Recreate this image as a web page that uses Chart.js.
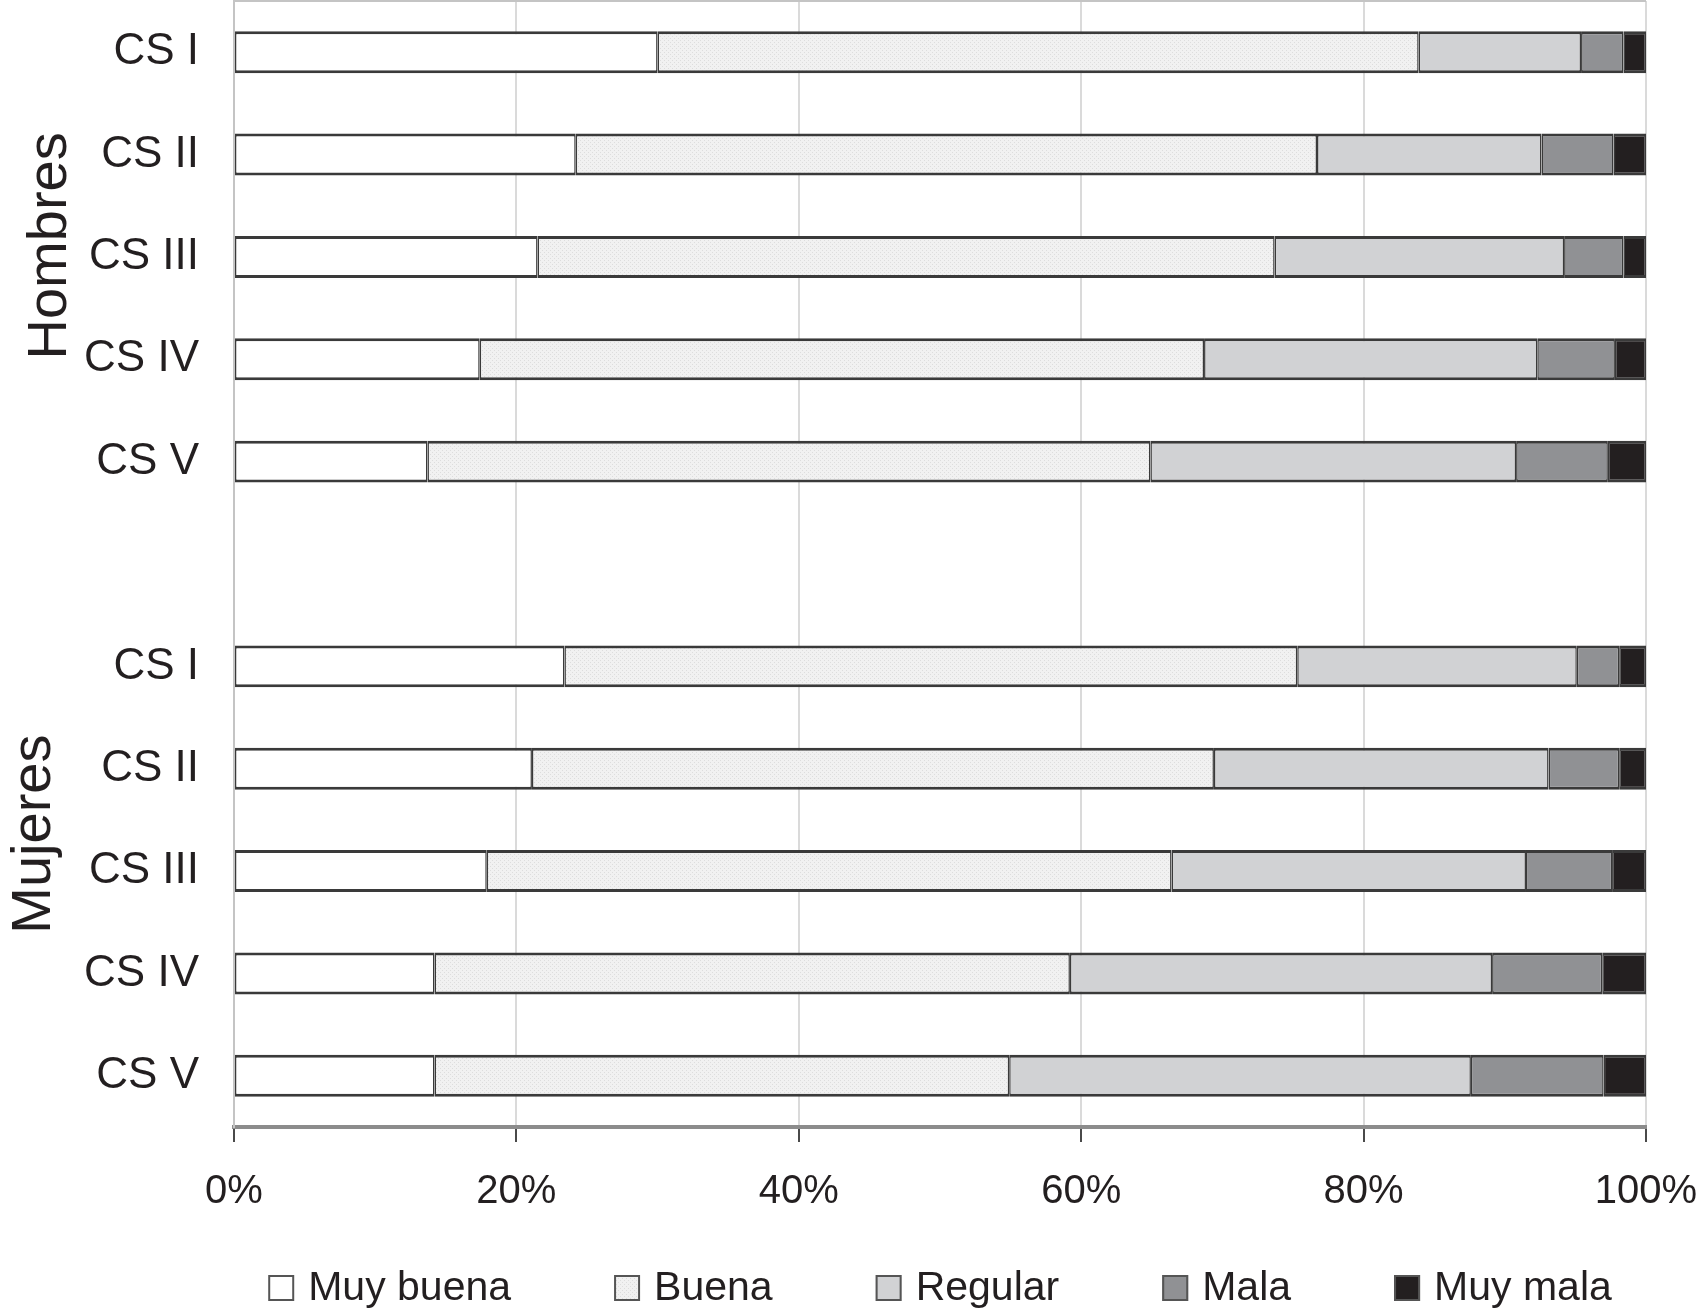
<!DOCTYPE html>
<html lang="es">
<head>
<meta charset="utf-8">
<title>Salud percibida por clase social</title>
<script src="https://cdn.jsdelivr.net/npm/chart.js@4.4.1/dist/chart.umd.min.js"></script>
<style>
  html, body { margin: 0; padding: 0; background: #fff; }
  #wrap { width: 1700px; height: 1311px; position: relative; }
</style>
</head>
<body>
<div id="wrap"><canvas id="chart"></canvas></div>
<script>
// categories
var clases = ['CS I', 'CS II', 'CS III', 'CS IV', 'CS V'];
var grupos = ['Hombres', 'Mujeres'];
var niveles = ['Muy buena', 'Buena', 'Regular', 'Mala', 'Muy mala'];
var ticksX = [0, 20, 40, 60, 80, 100];

// percentages, one value per social class (CS I .. CS V)
var hombresMuyBuena = [30.0, 24.2, 21.5, 17.4, 13.7];
var hombresBuena    = [53.9, 52.5, 52.2, 51.3, 51.2];
var hombresRegular  = [11.5, 15.9, 20.5, 23.6, 25.9];
var hombresMala     = [3.0, 5.1, 4.2, 5.5, 6.5];
var hombresMuyMala  = [1.6, 2.3, 1.6, 2.2, 2.7];

var mujeresMuyBuena = [23.4, 21.1, 17.9, 14.2, 14.2];
var mujeresBuena    = [51.9, 48.3, 48.5, 45.0, 40.7];
var mujeresRegular  = [19.8, 23.7, 25.1, 29.9, 32.7];
var mujeresMala     = [3.0, 5.0, 6.1, 7.8, 9.4];
var mujeresMuyMala  = [1.9, 1.9, 2.4, 3.1, 3.0];

// dotted light fill used for "Buena"
function dotted() {
    var c = document.createElement('canvas');
    c.width = 4; c.height = 4;
    var g = c.getContext('2d');
    g.fillStyle = '#f1f1f1';
    g.fillRect(0, 0, 4, 4);
    g.fillStyle = '#dddddd';
    g.fillRect(0, 0, 1, 1);
    g.fillRect(2, 2, 1, 1);
    return g.createPattern(c, 'repeat');
}

var fills = ['#ffffff', dotted(), '#d1d2d4', '#909194', '#231f20'];
var fontFamily = "'Liberation Sans', Arial, Helvetica, sans-serif";
var ink = '#231f20';

// rows: the five classes of men, an empty spacer row, the five classes of women
var labels = clases.concat(['']).concat(clases);
var hombres = [hombresMuyBuena, hombresBuena, hombresRegular, hombresMala, hombresMuyMala];
var mujeres = [mujeresMuyBuena, mujeresBuena, mujeresRegular, mujeresMala, mujeresMuyMala];

var datasets = niveles.map(function(nivel, i) {
    return {
        label: nivel,
        data: hombres[i].concat([null]).concat(mujeres[i]),
        backgroundColor: fills[i],
        borderColor: '#3a3a3a',
        borderWidth: {top: 3, bottom: 3, left: 1.5, right: 1.5},
        borderSkipped: false,
        barPercentage: 0.41,
        categoryPercentage: 1
    };
});

// top edge of the plot frame
var framePlugin = {
    id: 'frame',
    beforeDatasetsDraw(chart) {
        var ctx = chart.ctx, a = chart.chartArea;
        ctx.save();
        ctx.strokeStyle = '#c4c4c4';
        ctx.lineWidth = 2;
        ctx.beginPath();
        ctx.moveTo(a.left, a.top);
        ctx.lineTo(a.right, a.top);
        ctx.stroke();
        ctx.restore();
    }
};

// rotated "Hombres" / "Mujeres" titles next to their block of rows
var groupPlugin = {
    id: 'groupTitles',
    afterDraw(chart, args, options) {
        var ctx = chart.ctx;
        var y = chart.scales.y;
        ctx.save();
        ctx.fillStyle = ink;
        ctx.font = options.size + 'px ' + fontFamily;
        ctx.textAlign = 'center';
        ctx.textBaseline = 'alphabetic';
        grupos.forEach(function(g, i) {
            var first = i * (clases.length + 1);
            var last = first + clases.length - 1;
            var yc = (y.getPixelForValue(first) + y.getPixelForValue(last)) / 2 + options.shift[i];
            ctx.save();
            ctx.translate(options.baseline[i], yc);
            ctx.rotate(-Math.PI / 2);
            ctx.fillText(g, 0, 0);
            ctx.restore();
        });
        ctx.restore();
    }
};

// single-row legend centred under the plot area
var legendPlugin = {
    id: 'bottomLegend',
    afterDraw(chart, args, options) {
        var ctx = chart.ctx, a = chart.chartArea;
        ctx.save();
        ctx.font = options.size + 'px ' + fontFamily;
        var items = chart.data.datasets.map(function(ds) {
            return {text: ds.label, fill: ds.backgroundColor, w: ctx.measureText(ds.label).width};
        });
        var total = 0;
        items.forEach(function(it) { total += options.box + options.gap + it.w; });
        total += options.spacing * (items.length - 1);
        var x = (a.left + a.right) / 2 - total / 2;
        var yc = chart.height - options.bottom;
        ctx.textBaseline = 'middle';
        items.forEach(function(it) {
            ctx.fillStyle = it.fill;
            ctx.fillRect(x, yc - options.box / 2, options.box, options.box);
            ctx.strokeStyle = '#555555';
            ctx.lineWidth = 2;
            ctx.strokeRect(x + 1, yc - options.box / 2 + 1, options.box - 2, options.box - 2);
            ctx.fillStyle = ink;
            ctx.fillText(it.text, x + options.box + options.gap, yc + 1);
            x += options.box + options.gap + it.w + options.spacing;
        });
        ctx.restore();
    }
};

new Chart(document.getElementById('chart'), {
    type: 'bar',
    data: {labels: labels, datasets: datasets},
    options: {
        indexAxis: 'y',
        responsive: true,
        maintainAspectRatio: false,
        animation: false,
        layout: {padding: {top: 1, right: 54, bottom: 0, left: 0}},
        scales: {
            x: {
                stacked: true,
                min: 0,
                max: 100,
                afterBuildTicks: function(scale) {
                    scale.ticks = ticksX.map(function(v) { return {value: v}; });
                },
                afterFit: function(scale) {
                    scale.height = 184;
                    scale.paddingLeft = 0;
                    scale.paddingRight = 0;
                },
                grid: {
                    color: '#dadada',
                    lineWidth: 2,
                    drawTicks: true,
                    tickLength: 15,
                    tickColor: '#4a4a4a',
                    tickWidth: 2
                },
                border: {display: true, color: '#8c8c8c', width: 4},
                ticks: {
                    padding: 26,
                    maxRotation: 0,
                    color: ink,
                    font: {family: fontFamily, size: 40},
                    callback: function(v) { return v + '%'; }
                }
            },
            y: {
                stacked: true,
                afterFit: function(scale) {
                    scale.width = 234;
                    scale.paddingTop = 0;
                    scale.paddingBottom = 0;
                },
                grid: {display: false, drawTicks: false},
                border: {display: true, color: '#c4c4c4', width: 2},
                ticks: {
                    padding: 35,
                    color: ink,
                    autoSkip: false,
                    font: {family: fontFamily, size: 44}
                }
            }
        },
        plugins: {
            legend: {display: false},
            tooltip: {enabled: false},
            groupTitles: {size: 56, baseline: [66, 50], shift: [-11, -37]},
            bottomLegend: {size: 41, box: 26, gap: 14, spacing: 103, bottom: 23}
        }
    },
    plugins: [framePlugin, groupPlugin, legendPlugin]
});
</script>
</body>
</html>
